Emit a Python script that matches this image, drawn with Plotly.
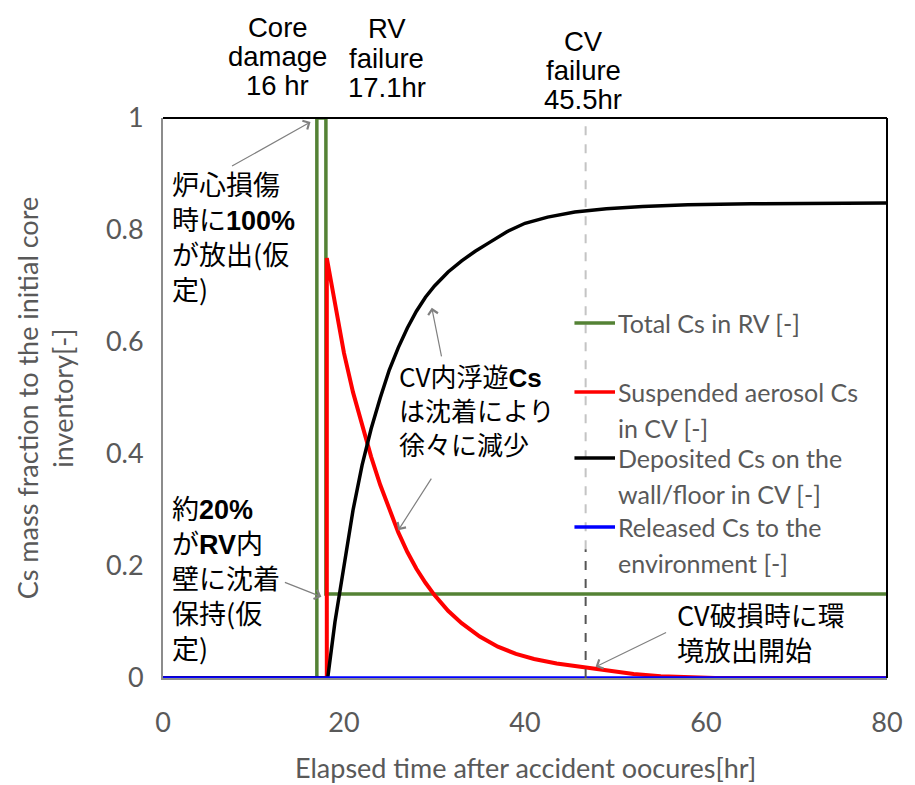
import plotly.graph_objects as go

# ---- Cs inventories: elapsed time [hr] vs mass fraction of initial core inventory [-] ----
t_rv = [0, 17.0, 17.0, 18.0, 18.0, 80]
cs_rv = [0, 0, 1.0, 1.0, 0.15, 0.15]

t_susp = [0, 18.1, 18.1, 19.0, 20.0, 21.0, 22.0, 23.0, 24.0, 25.0, 26.0, 27.0, 28.0,
          29.0, 30.0, 31.5, 33.0, 35.0, 37.0, 39.0, 41.0, 43.5, 46.0, 49.0, 52.0,
          55.0, 58.0, 61.0, 80.0]
cs_susp = [0, 0, 0.75, 0.665, 0.58, 0.51, 0.45, 0.395, 0.345, 0.30, 0.26, 0.225, 0.195,
           0.17, 0.148, 0.12, 0.098, 0.074, 0.056, 0.043, 0.034, 0.026, 0.020, 0.013, 0.007,
           0.003, 0.001, 0, 0]

t_dep = [0, 18.2, 19.0, 20.0, 21.0, 22.0, 23.0, 24.0, 25.0, 26.0, 27.0, 28.0, 29.0,
         30.0, 31.5, 33.0, 34.5, 36.0, 38.0, 40.0, 42.5, 45.5, 49.0, 53.0, 58.0, 65.0, 80.0]
cs_dep = [0, 0, 0.10, 0.205, 0.30, 0.38, 0.445, 0.50, 0.55, 0.59, 0.625, 0.655, 0.68,
          0.70, 0.725, 0.745, 0.762, 0.777, 0.797, 0.812, 0.823, 0.832, 0.838, 0.842, 0.845,
          0.847, 0.848]

t_rel = [0, 80]
cs_rel = [0, 0]

x_ticks = [0, 20, 40, 60, 80]
y_ticks = [0, 0.2, 0.4, 0.6, 0.8, 1.0]
y_tick_text = ["0", "0.2", "0.4", "0.6", "0.8", "1"]

# containment vessel failure marker
t_cv_line = 46.7
cv_dark_from = 0.23

series = [
    (t_rv, cs_rv, "#548235", 3.5, ["Total Cs in RV [-]"]),
    (t_susp, cs_susp, "#ff0000", 4, ["Suspended aerosol Cs", "in CV [-]"]),
    (t_dep, cs_dep, "#000000", 3.5, ["Deposited Cs on the", "wall/floor in CV [-]"]),
    (t_rel, cs_rel, "#0000ff", 3.5, ["Released Cs to the", "environment [-]"]),
]

GRAY = "#595959"
LAT = "Lato"
JP = "Noto Sans CJK JP"
SANS = "Liberation Sans"

# plot area in page pixels, used to place text blocks
L, R, T, B = 163, 895, 118, 678
def px(xp):
    return (xp - L) / (R - L)
def py(yp):
    return (B - yp) / (B - T)

fig = go.Figure()
for t, v, col, w, label in series:
    fig.add_trace(go.Scatter(x=t, y=v, mode="lines", name=" ".join(label),
                             line=dict(color=col, width=w), cliponaxis=False,
                             showlegend=False))

shapes = []
annotations = []

# frame: top and right edges
shapes.append(dict(type="line", xref="x domain", yref="y domain", x0=0, x1=1, y0=1, y1=1,
                   line=dict(color="black", width=2)))
shapes.append(dict(type="line", xref="x domain", yref="y domain", x0=1, x1=1, y0=0, y1=1,
                   line=dict(color="black", width=2)))

# CV failure time
shapes.append(dict(type="line", xref="x", yref="y", x0=t_cv_line, x1=t_cv_line,
                   y0=cv_dark_from, y1=1, line=dict(color="#c4c4c4", width=2, dash="dash")))
shapes.append(dict(type="line", xref="x", yref="y", x0=t_cv_line, x1=t_cv_line,
                   y0=0, y1=cv_dark_from, line=dict(color="#555555", width=2, dash="dash")))

# legend block
legend_rows = [323, 392, 458, 527]
line_gap = 36
for (t, v, col, w, label), yrow in zip(series, legend_rows):
    shapes.append(dict(type="line", xref="paper", yref="paper", x0=px(579), x1=px(620),
                       y0=py(yrow), y1=py(yrow), line=dict(color=col, width=3.5)))
    for i, txt in enumerate(label):
        annotations.append(dict(xref="paper", yref="paper", x=px(621), y=py(yrow + i * line_gap),
                                xanchor="left", yanchor="middle", text=txt, showarrow=False,
                                font=dict(family=LAT, size=25, color=GRAY)))

# event labels above the frame
def stacked(lines, xc, ys, size=27.5):
    for txt, yy in zip(lines, ys):
        annotations.append(dict(xref="paper", yref="paper", x=px(xc), y=py(yy),
                                xanchor="center", yanchor="middle", text=txt, showarrow=False,
                                font=dict(family=SANS, size=size, color="black")))

stacked(["Core", "damage", "16 hr"], 279, [28, 57, 86])
stacked(["RV", "failure", "17.1hr"], 389, [29, 59, 88])
stacked(["CV", "failure", "45.5hr"], 588, [41, 70, 100])

# Japanese notes
def note(text, xl, yc, size=27):
    annotations.append(dict(xref="paper", yref="paper", x=px(xl), y=py(yc),
                            xanchor="left", yanchor="middle", align="left", text=text,
                            showarrow=False, font=dict(family=JP, size=size, color="black")))

def latin(s):
    return '<span style="font-family:Liberation Sans"><b>' + s + '</b></span>'

note("炉心損傷<br>時に" + latin("100%") + "<br>が放出(仮<br>定)", 170, 236)
note("約" + latin("20%") + "<br>が" + latin("RV") + "内<br>壁に沈着<br>保持(仮<br>定)", 170, 577)
note("CV内浮遊" + latin("Cs") + "<br>は沈着により<br>徐々に減少", 400, 410, 26)
note("CV破損時に環<br>境放出開始", 681, 632)

# pointer arrows (tip in data units, tail offset in pixels)
def arrow(x, y, ax, ay):
    annotations.append(dict(xref="x", yref="y", x=x, y=y, ax=ax, ay=ay, text="",
                            showarrow=True, arrowhead=4, arrowsize=1.6, arrowwidth=1.2,
                            arrowcolor="#808080", standoff=0))

arrow(16.9, 1.008, 2, -19)
arrow(18.5, 1.011, 18, -16)
arrow(16.3, 0.993, -80, 45)
arrow(17.5, 0.145, -38, -15)
arrow(29.7, 0.661, 10, 50)
arrow(26.0, 0.264, 34, -53)
arrow(47.8, 0.020, 72, -35)

# axis titles
annotations.append(dict(xref="paper", yref="paper", x=px(529), y=py(767), xanchor="center",
                        yanchor="middle", text="Elapsed time after accident oocures[hr]",
                        showarrow=False, font=dict(family=LAT, size=27, color=GRAY)))
annotations.append(dict(xref="paper", yref="paper", x=px(44), y=py(398), xanchor="center",
                        yanchor="middle", textangle=-90,
                        text="Cs mass fraction to the initial core<br>inventory[-]",
                        showarrow=False, font=dict(family=LAT, size=27, color=GRAY)))

fig.update_layout(
    width=915, height=785,
    margin=dict(l=L, r=915 - R, t=T, b=785 - B),
    paper_bgcolor="white", plot_bgcolor="white",
    showlegend=False,
    shapes=shapes, annotations=annotations,
    xaxis=dict(range=[0, 80], tickvals=x_ticks, showgrid=False, zeroline=False,
               showline=True, linecolor="#8c8c8c", linewidth=2, ticks="", layer="below traces",
               ticklabelstandoff=20, tickfont=dict(family=LAT, size=27, color=GRAY)),
    yaxis=dict(range=[0, 1], tickvals=y_ticks, ticktext=y_tick_text, showgrid=False,
               zeroline=False, showline=True, linecolor="#8c8c8c", linewidth=2, ticks="",
               layer="below traces",
               ticklabelstandoff=12, tickfont=dict(family=LAT, size=27, color=GRAY)),
)

fig.write_html("out.html")
